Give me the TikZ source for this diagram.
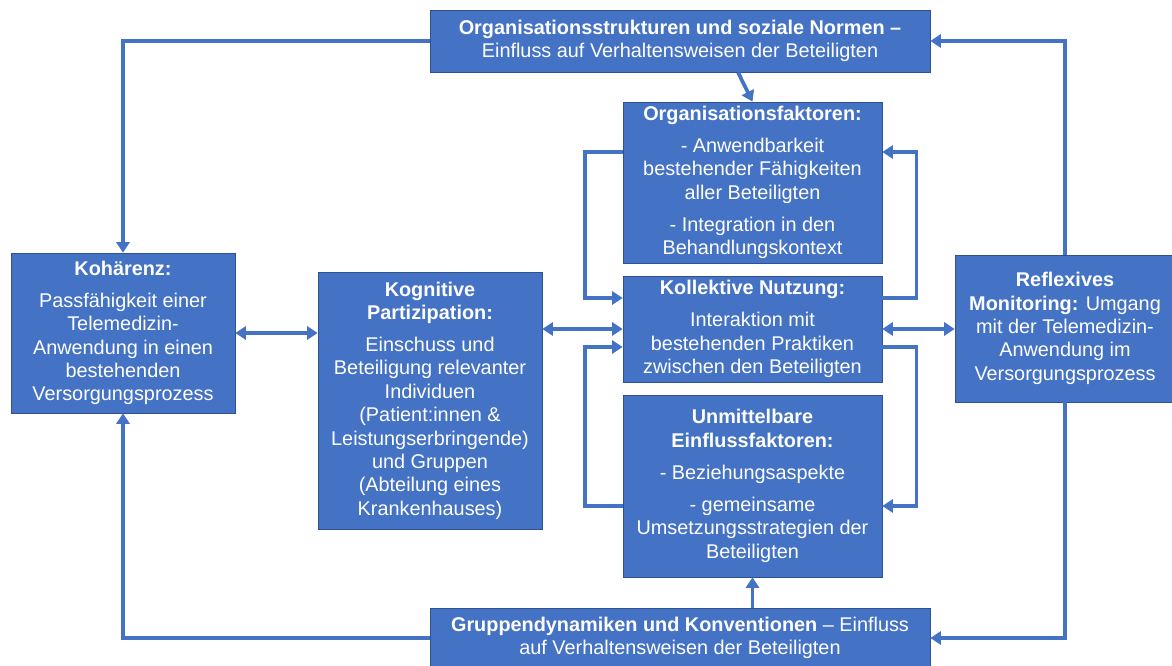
\documentclass[tikz,border=0pt]{standalone}
\usepackage{fontspec}
\setmainfont{Liberation Sans}
\usetikzlibrary{arrows.meta}
\definecolor{boxblue}{HTML}{4472C4}
\definecolor{boxedge}{HTML}{2F528F}
\tikzset{
  box/.style={draw=boxedge, line width=0.4pt, fill=boxblue, text=white, align=center,
    font=\fontsize{11.3}{13.3}\selectfont, inner sep=2pt},
  arr/.style={draw=boxblue, line width=2.1pt, -{Triangle[length=6pt,width=7.5pt]}},
  dblarr/.style={draw=boxblue, line width=2.1pt, {Triangle[length=6pt,width=7.5pt]}-{Triangle[length=6pt,width=7.5pt]}}
}
\begin{document}
\begin{tikzpicture}
  \useasboundingbox (0,0) rectangle (23.44,13.32);
  \node[box, minimum width=10cm, minimum height=1.24cm] (orgs) at (13.6,12.5)
    {\textbf{Organisationsstrukturen und soziale Normen –}\\Einfluss auf Verhaltensweisen der Beteiligten};
  \node[box, minimum width=10cm, minimum height=1.2cm] (grp) at (13.6,0.56)
    {\textbf{Gruppendynamiken und Konventionen} – Einfluss\\auf Verhaltensweisen der Beteiligten};
  \node[box, minimum width=4.48cm, minimum height=3.2cm] (koh) at (2.46,6.66)
    {\textbf{Kohärenz:}\\[5pt]Passfähigkeit einer\\Telemedizin-\\Anwendung in einen\\bestehenden\\Versorgungsprozess};
  \node[box, minimum width=4.48cm, minimum height=5.14cm] (kog) at (8.6,5.31)
    {\textbf{Kognitive}\\\textbf{Partizipation:}\\[5pt]Einschuss und\\Beteiligung relevanter\\Individuen\\(Patient:innen \&\\Leistungserbringende)\\und Gruppen\\(Abteilung eines\\Krankenhauses)};
  \node[box, minimum width=5.18cm, minimum height=3.22cm] (orgf) at (15.05,9.67)
    {\textbf{Organisationsfaktoren:}\\[5pt]- Anwendbarkeit\\bestehender Fähigkeiten\\aller Beteiligten\\[5pt]- Integration in den\\Behandlungskontext};
  \node[box, minimum width=5.18cm, minimum height=2.12cm] (koll) at (15.05,6.74)
    {\textbf{Kollektive Nutzung:}\\[5pt]Interaktion mit\\bestehenden Praktiken\\zwischen den Beteiligten};
  \node[box, minimum width=5.18cm, minimum height=3.64cm] (unm) at (15.05,3.6)
    {\textbf{Unmittelbare}\\\textbf{Einflussfaktoren:}\\[5pt]- Beziehungsaspekte\\[5pt]- gemeinsame\\Umsetzungsstrategien der\\Beteiligten};
  \node[box, minimum width=4.4cm, minimum height=2.94cm] (refl) at (21.3,6.75)
    {\textbf{Reflexives}\\\textbf{Monitoring:} Umgang\\mit der Telemedizin-\\Anwendung im\\Versorgungsprozess};

  \draw[arr] (orgs.west) -| (koh.north);
  \draw[arr] (grp.west) -| (koh.south);
  \draw[arr] (refl.north) |- (orgs.east);
  \draw[arr] (refl.south) |- (grp.east);
  \draw[arr] ([xshift=1.16cm]orgs.south) -- (orgf.north);
  \draw[arr] (grp.north -| unm.south) -- (unm.south);
  \draw[dblarr] (koh.east) -- (koh.east -| kog.west);
  \draw[dblarr] (kog.east |- koll.west) -- (koll.west);
  \draw[dblarr] (koll.east) -- (koll.east -| refl.west);
  \draw[arr] ([yshift=0.61cm]orgf.west) -- ++(-0.76,0) |- ([yshift=0.62cm]koll.west);
  \draw[arr] ([yshift=0.62cm]koll.east) -- ++(0.68,0) |- ([yshift=0.61cm]orgf.east);
  \draw[arr] ([yshift=-0.4cm]unm.west) -- ++(-0.76,0) |- ([yshift=-0.36cm]koll.west);
  \draw[arr] ([yshift=-0.36cm]koll.east) -- ++(0.68,0) |- ([yshift=-0.4cm]unm.east);
\end{tikzpicture}
\end{document}
